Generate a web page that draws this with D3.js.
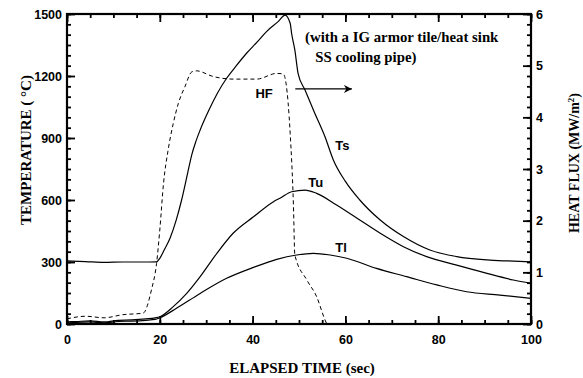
<!DOCTYPE html>
<html>
<head>
<meta charset="utf-8">
<script src="https://cdn.jsdelivr.net/npm/d3@7"></script>
<style>
  html, body { margin: 0; padding: 0; background: #fff; }
  svg { display: block; }
  .tick text { font-family: "Liberation Sans", Arial, sans-serif; font-weight: bold; font-size: 12.5px; fill: #000; }
  .axis-title { font-family: "Liberation Serif", "Times New Roman", serif; font-weight: bold; font-size: 15px; fill: #000; }
  .note { font-family: "Liberation Serif", "Times New Roman", serif; font-weight: bold; font-size: 14.8px; fill: #000; }
  .curve-label { font-family: "Liberation Sans", Arial, sans-serif; font-weight: bold; font-size: 13px; fill: #000; }
</style>
</head>
<body>
<div id="chart"></div>
<script>
// time (sec) and temperatures (deg C)
const tsTime = [0, 4, 8, 12, 16, 19.3, 20, 21, 22.2, 23.5, 24.7, 26, 26.9, 27.8, 28.7, 30.8, 32.5, 34.4, 36.5, 38.7, 41, 43, 45.5, 47, 48.1, 48.4, 49.1, 49.8, 51.3, 53.4, 55.6, 57.4, 60, 63.1, 67.5, 72.5, 78.2, 84, 90.5, 95, 100];
const tsTemp = [305, 302, 298, 300, 300, 301, 318, 360, 415, 500, 600, 730, 820, 885, 939, 1045, 1120, 1189, 1250, 1310, 1365, 1415, 1463, 1495, 1455, 1407, 1326, 1213, 1132, 1020, 906, 794, 690, 600, 503, 423, 358, 326, 310, 305, 301];

const tuTime = [0, 2, 5, 8, 11, 14, 17, 19, 20, 22.9, 25.8, 28.7, 32.3, 35.8, 40.2, 44.5, 46, 48.4, 51.3, 53.8, 58.1, 63.1, 67.5, 72.5, 77.5, 84, 90.5, 96.2, 100];
const tuTemp = [10, 12, 15, 10, 18, 20, 25, 30, 35, 84, 148, 229, 342, 439, 519, 592, 610, 640, 648, 632, 576, 503, 439, 374, 326, 285, 245, 213, 197];

const tlTime = [0, 2, 5, 8, 11, 14, 17, 19, 20, 23.6, 28.7, 34.4, 40.2, 45.2, 49.5, 53.1, 56.7, 60.3, 66.7, 73.2, 79.7, 86.1, 93.3, 100];
const tlTemp = [5, 8, 10, 6, 12, 14, 18, 22, 30, 76, 148, 221, 274, 313, 334, 342, 334, 318, 269, 229, 189, 156, 140, 124];

// heat flux (MW/m2)
const hfTime = [0, 4, 8, 12, 16.4, 18.2, 19.3, 20, 20.8, 21.8, 22.9, 24, 25.4, 26.9, 27.9, 31.5, 35.8, 40.9, 45.2, 46.6, 47.2, 48.1, 48.8, 49.1, 51.7, 53.8, 55.6, 56];
const hfFlux = [0.1, 0.15, 0.12, 0.18, 0.21, 0.66, 1.17, 1.82, 2.72, 3.37, 3.88, 4.27, 4.59, 4.88, 4.9, 4.79, 4.74, 4.74, 4.85, 4.84, 4.66, 3.69, 2.3, 1.34, 0.85, 0.53, 0.08, 0];

const xTicks = [0, 20, 40, 60, 80, 100];
const tempTicks = [0, 300, 600, 900, 1200, 1500];
const fluxTicks = [0, 1, 2, 3, 4, 5, 6];

const W = 583, H = 378;
const margin = { top: 14, right: 52, bottom: 54, left: 67 };
const width = W - margin.left - margin.right;
const height = H - margin.top - margin.bottom;

const svg = d3.select('#chart').append('svg')
  .attr('width', W)
  .attr('height', H);

const g = svg.append('g')
  .attr('transform', `translate(${margin.left},${margin.top})`);

const x = d3.scaleLinear().domain([0, 100]).range([0, width]);
const yT = d3.scaleLinear().domain([0, 1500]).range([height, 0]);
const yF = d3.scaleLinear().domain([0, 6]).range([height, 0]);

// frame first, ticks on top of it
g.append('rect')
  .attr('width', width)
  .attr('height', height)
  .attr('fill', 'none')
  .attr('stroke', '#000')
  .attr('stroke-width', 2.2);

// minor ticks (inward)
const minorX = d3.range(0, 101, 5);
const minorT = d3.range(0, 1501, 50);
const minorF = d3.range(0, 6.01, 0.2);

function styleAxis(sel) {
  sel.select('.domain').remove();
  sel.selectAll('.tick line').attr('stroke', '#000').attr('stroke-width', 1.8);
}

g.append('g').attr('transform', `translate(0,${height})`)
  .call(d3.axisBottom(x).tickValues(minorX).tickSize(-4).tickFormat(''))
  .call(styleAxis);
g.append('g')
  .call(d3.axisTop(x).tickValues(minorX).tickSize(-4).tickFormat(''))
  .call(styleAxis);
g.append('g')
  .call(d3.axisLeft(yT).tickValues(minorT).tickSize(-4).tickFormat(''))
  .call(styleAxis);
g.append('g').attr('transform', `translate(${width},0)`)
  .call(d3.axisRight(yF).tickValues(minorF).tickSize(-4).tickFormat(''))
  .call(styleAxis);

// major ticks
g.append('g').attr('transform', `translate(0,${height})`)
  .call(d3.axisBottom(x).tickValues(xTicks).tickSizeInner(-8).tickSizeOuter(0).tickPadding(11).tickFormat(d3.format('d')))
  .call(styleAxis);
g.append('g')
  .call(d3.axisTop(x).tickValues(xTicks).tickSize(-8).tickFormat(''))
  .call(styleAxis);
g.append('g')
  .call(d3.axisLeft(yT).tickValues(tempTicks).tickSizeInner(-8).tickSizeOuter(0).tickPadding(5).tickFormat(d3.format('d')))
  .call(styleAxis);
g.append('g').attr('transform', `translate(${width},0)`)
  .call(d3.axisRight(yF).tickValues(fluxTicks).tickSizeInner(-8).tickSizeOuter(0).tickPadding(5).tickFormat(d3.format('d')))
  .call(styleAxis);

// curves
const tempLine = d3.line().curve(d3.curveMonotoneX).x(d => x(d[0])).y(d => yT(d[1]));
const fluxLine = d3.line().curve(d3.curveMonotoneX).x(d => x(d[0])).y(d => yF(d[1]));

[[tsTime, tsTemp], [tuTime, tuTemp], [tlTime, tlTemp]].forEach(([t, v]) => {
  g.append('path')
    .datum(d3.zip(t, v))
    .attr('fill', 'none')
    .attr('stroke', '#000')
    .attr('stroke-width', 1.2)
    .attr('d', tempLine);
});

g.append('path')
  .datum(d3.zip(hfTime, hfFlux))
  .attr('fill', 'none')
  .attr('stroke', '#000')
  .attr('stroke-width', 1)
  .attr('stroke-dasharray', '4,3')
  .attr('d', fluxLine);

// curve labels
const labels = [
  { text: 'HF', t: 40.6, v: 1118 },
  { text: 'Ts', t: 57.8, v: 866 },
  { text: 'Tu', t: 52.0, v: 687 },
  { text: 'Tl', t: 57.8, v: 373 }
];
g.selectAll('text.curve-label')
  .data(labels)
  .enter()
  .append('text')
  .attr('class', 'curve-label')
  .attr('x', d => x(d.t))
  .attr('y', d => yT(d.v))
  .attr('dy', '0.36em')
  .text(d => d.text);

// arrow
svg.append('defs').append('marker')
  .attr('id', 'arrow')
  .attr('viewBox', '0 0 10 10')
  .attr('refX', 10).attr('refY', 5)
  .attr('markerWidth', 9).attr('markerHeight', 8)
  .attr('markerUnits', 'userSpaceOnUse')
  .attr('orient', 'auto')
  .append('path').attr('d', 'M0,0 L10,5 L0,10 L3,5 Z').attr('fill', '#000');

g.append('line')
  .attr('x1', x(49.2)).attr('x2', x(61.4))
  .attr('y1', yF(4.55)).attr('y2', yF(4.55))
  .attr('stroke', '#000').attr('stroke-width', 1.2)
  .attr('marker-end', 'url(#arrow)');

// note
const note = g.append('text').attr('class', 'note').attr('y', 28);
note.append('tspan').attr('x', x(51.3)).attr('dy', 0).text('(with a IG armor tile/heat sink');
note.append('tspan').attr('x', x(53.5)).attr('dy', 20).text('SS cooling pipe)');

// axis titles
svg.append('text').attr('class', 'axis-title')
  .attr('text-anchor', 'middle')
  .attr('x', 302).attr('y', 373)
  .text('ELAPSED TIME (sec)');

svg.append('text').attr('class', 'axis-title')
  .attr('text-anchor', 'middle')
  .attr('transform', 'translate(31,150) rotate(-90)')
  .text('TEMPERATURE ( °C)');

const hfTitle = svg.append('text').attr('class', 'axis-title')
  .attr('text-anchor', 'middle')
  .style('font-size', '14px')
  .attr('transform', 'translate(579,163) rotate(-90)');
hfTitle.append('tspan').text('HEAT FLUX (MW/m');
hfTitle.append('tspan').attr('dy', -5).attr('font-size', '9px').text('2');
hfTitle.append('tspan').attr('dy', 5).text(')');
</script>
</body>
</html>
